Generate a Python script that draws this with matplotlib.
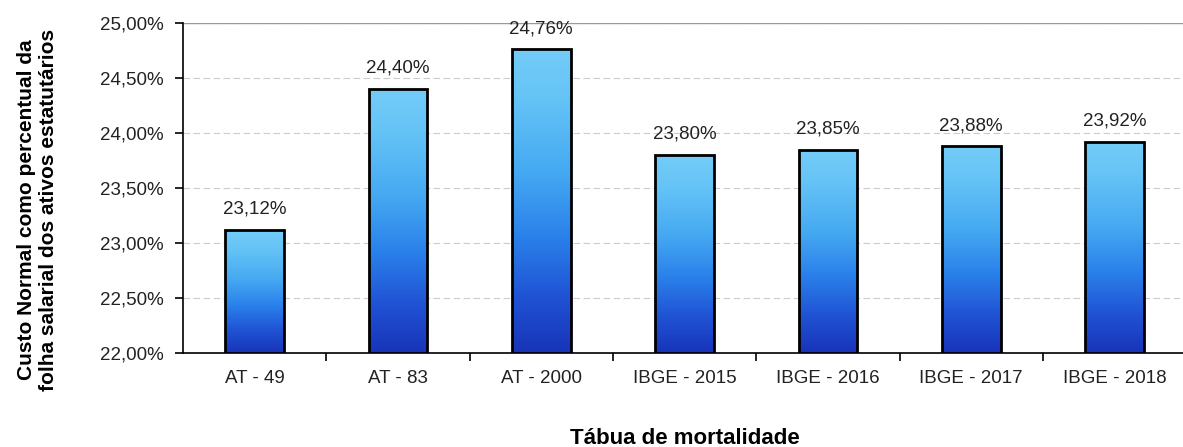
import matplotlib
matplotlib.use("Agg")
import matplotlib.pyplot as plt
import numpy as np
from matplotlib.colors import LinearSegmentedColormap

categories = ["AT - 49", "AT - 83", "AT - 2000", "IBGE - 2015", "IBGE - 2016", "IBGE - 2017", "IBGE - 2018"]
values = [23.12, 24.40, 24.76, 23.80, 23.85, 23.88, 23.92]
value_labels = ["23,12%", "24,40%", "24,76%", "23,80%", "23,85%", "23,88%", "23,92%"]
yticks = [22.0, 22.5, 23.0, 23.5, 24.0, 24.5, 25.0]
ytick_labels = ["22,00%", "22,50%", "23,00%", "23,50%", "24,00%", "24,50%", "25,00%"]

plt.rcParams['font.family'] = ['Liberation Sans', 'DejaVu Sans']

fig = plt.figure(figsize=(11.83, 4.47), dpi=100)
ax = fig.add_axes([0.1547, 0.2103, 0.848, 0.7382])

ymin, ymax = 22.0, 25.0
x = np.arange(len(categories))
width = 0.41

cmap = LinearSegmentedColormap.from_list(
    "bluegrad", [(0.0, "#1834b8"), (0.18, "#2052d4"), (0.38, "#2a80ea"),
                 (0.6, "#46aaf2"), (0.85, "#66c4f6"), (1.0, "#74ccf8")])
grad = np.linspace(0, 1, 256).reshape(-1, 1)

bars = ax.bar(x, [v - ymin for v in values], width=width, bottom=ymin,
              facecolor='none', edgecolor='black', linewidth=2.0, zorder=4)
for b in bars:
    x0, y0 = b.get_x(), b.get_y()
    w, h = b.get_width(), b.get_height()
    im = ax.imshow(grad, cmap=cmap, origin='lower', aspect='auto',
                   extent=[x0, x0 + w, y0, y0 + h], zorder=3)
    im.set_clip_path(b)

for xi, v, lab in zip(x, values, value_labels):
    ax.text(xi, v + 0.11, lab, ha='center', va='bottom', fontsize=13.5, color='#222222')

ax.set_xlim(-0.5, len(categories) - 0.5)
ax.set_ylim(ymin, ymax)
ax.set_yticks(yticks)
ax.set_yticklabels(ytick_labels, fontsize=13.5, color='#222222')
ax.set_xticks(x)
ax.set_xticklabels(categories, fontsize=13.5, color='#222222')
ax.set_xticks(np.arange(0.5, len(categories) - 0.5, 1), minor=True)
ax.tick_params(axis='x', which='major', length=0, pad=12)
ax.tick_params(axis='x', which='minor', length=6, width=1.2, direction='out')
ax.tick_params(axis='y', length=6, width=1.2, direction='out', pad=8)

ax.yaxis.grid(True, color='#cccccc', linestyle=(0, (6, 3)), linewidth=0.8, zorder=0)
ax.set_axisbelow(True)
ax.axhline(25.0, color='#999999', linewidth=1.0, zorder=1)

for s in ['top', 'right']:
    ax.spines[s].set_visible(False)
ax.spines['left'].set_linewidth(1.2)
ax.spines['bottom'].set_linewidth(1.2)

ax.set_xlabel("Tábua de mortalidade", fontsize=16, fontweight='bold', labelpad=30)
ax.set_ylabel("Custo Normal como percentual da\nfolha salarial dos ativos estatutários",
              fontsize=15, fontweight='bold', linespacing=1.15)
ax.yaxis.set_label_coords(-0.125, 0.435)

fig.savefig("out.png", dpi=100)
